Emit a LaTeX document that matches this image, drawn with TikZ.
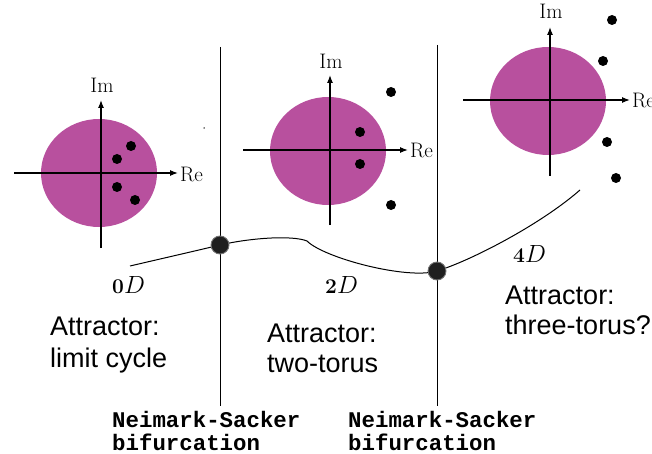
\documentclass[tikz,border=0pt]{standalone}
\usepackage{fontspec}
\newfontfamily\arialf{Liberation Sans}
\newfontfamily\courf{Liberation Mono}
\usetikzlibrary{arrows.meta}
\definecolor{discmag}{RGB}{184,80,158}
\tikzset{
  disc/.style={fill=discmag, draw=none},
  axis/.style={line width=1.2pt, -{Latex[length=8pt,width=6pt]}},
  eig/.style={circle, fill=black, inner sep=0pt, minimum size=10pt},
  bif/.style={circle, fill=black!88, draw=black!55, line width=0.9pt, inner sep=0pt, minimum size=18pt},
  vline/.style={line width=0.8pt},
  curve/.style={line width=1pt},
  axlab/.style={font=\fontsize{21}{21}\selectfont, inner sep=0pt},
  attr/.style={font=\arialf\fontsize{27}{27}\selectfont, anchor=base west, inner sep=0pt},
  bifname/.style={font=\courf\bfseries\fontsize{22.4}{22.4}\selectfont, anchor=base west, inner sep=0pt},
  dimlab/.style={anchor=base west, inner sep=0pt, font=\fontsize{27}{27}\selectfont}
}
\newcommand{\dimnum}[1]{{\fontsize{21}{21}\selectfont\bfseries #1}}
\begin{document}
\begin{tikzpicture}[x=1pt, y=-1pt]
\useasboundingbox (0,0) rectangle (652,454);

% ---- panel 1
\fill[disc] (99,173) ellipse [x radius=58pt, y radius=54pt];
\coordinate (h1a) at (14,173);  \coordinate (h1b) at (178,173);
\coordinate (v1a) at (101,248); \coordinate (v1b) at (101,100);
\draw[axis] (h1a) -- (h1b);
\draw[axis] (v1a) -- (v1b);
\node[axlab, anchor=base] (im1) at (102,93) {Im};
\node[axlab, anchor=base west] (re1) at (180,182) {Re};
\node[eig] (e11) at (131,146) {};
\node[eig] (e12) at (117,159) {};
\node[eig] (e13) at (117,187) {};
\node[eig] (e14) at (135,200) {};
\node[circle, fill=black, inner sep=0pt, minimum size=1.5pt] (spk) at (204,128) {};

% ---- panel 2
\fill[disc] (328,151) ellipse [x radius=58pt, y radius=54pt];
\coordinate (h2a) at (243,150); \coordinate (h2b) at (408,150);
\coordinate (v2a) at (330,225); \coordinate (v2b) at (330,75);
\draw[axis] (h2a) -- (h2b);
\draw[axis] (v2a) -- (v2b);
\node[axlab, anchor=base] (im2) at (331,69) {Im};
\node[axlab, anchor=base west] (re2) at (410,158) {Re};
\node[eig] (e21) at (360,132) {};
\node[eig] (e22) at (360,164) {};
\node[eig] (e23) at (391,92) {};
\node[eig] (e24) at (391,205) {};

% ---- panel 3
\fill[disc] (548,101) ellipse [x radius=58pt, y radius=54pt];
\coordinate (h3a) at (463,100); \coordinate (h3b) at (630,100);
\coordinate (v3a) at (550,176); \coordinate (v3b) at (550,27);
\draw[axis] (h3a) -- (h3b);
\draw[axis] (v3a) -- (v3b);
\node[axlab, anchor=base] (im3) at (551,19) {Im};
\node[axlab, anchor=base west] (re3) at (632,108) {Re};
\node[eig] (e31) at (612,20) {};
\node[eig] (e32) at (603,61) {};
\node[eig] (e33) at (607,142) {};
\node[eig] (e34) at (616,178) {};

% ---- bifurcation lines
\coordinate (l1t) at (220,47);  \coordinate (l1b) at (220,406);
\coordinate (l2t) at (437,45);  \coordinate (l2b) at (437,406);
\draw[vline] (l1t) -- (l1b);
\draw[vline] (l2t) -- (l2b);

% ---- curve
\coordinate (c0) at (130,266);
\coordinate (cs) at (307,241);
\coordinate (c3) at (580,190);
\coordinate (n1c) at (220,245);
\coordinate (n2c) at (437,271);
\draw[curve] (c0) .. controls (160,259) and (195,251) .. (n1c)
  .. controls (250,238) and (292,235) .. (cs)
  .. controls (324,258) and (407,280) .. (n2c)
  .. controls (470,261) and (540,225) .. (c3);
\node[bif] (n1) at (n1c) {};
\node[bif] (n2) at (n2c) {};

% ---- dimension labels
\node[dimlab] (d0) at (112,293) {\dimnum{0}$D$};
\node[dimlab] (d2) at (325,293) {\dimnum{2}$D$};
\node[dimlab] (d4) at (513,262) {\dimnum{4}$D$};

% ---- attractor texts
\node[attr] (a1a) at (50,335) {Attractor:};
\node[attr] (a1b) at (50,367) {limit cycle};
\node[attr] (a2a) at (267,342) {Attractor:};
\node[attr] (a2b) at (267,372) {two-torus};
\node[attr] (a3a) at (505,304) {Attractor:};
\node[attr] (a3b) at (505,334) {three-torus?};

% ---- bifurcation names
\node[bifname] (b1a) at (112,427) {Neimark-Sacker};
\node[bifname] (b1b) at (112,450) {bifurcation};
\node[bifname] (b2a) at (348,427) {Neimark-Sacker};
\node[bifname] (b2b) at (348,450) {bifurcation};
\end{tikzpicture}
\end{document}
